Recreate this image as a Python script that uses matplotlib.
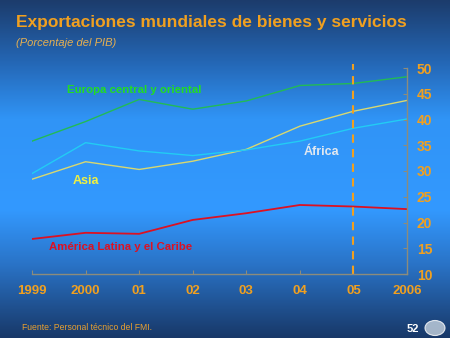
import numpy as np
import matplotlib
matplotlib.use("Agg")
import matplotlib.pyplot as plt
from matplotlib.colors import LinearSegmentedColormap

years = [1999, 2000, 2001, 2002, 2003, 2004, 2005, 2006]
year_labels = ["1999", "2000", "01", "02", "03", "04", "05", "2006"]
europa = [35.8, 39.6, 43.9, 42.0, 43.6, 46.6, 47.0, 48.3]
asia = [28.4, 31.8, 30.3, 31.9, 34.2, 38.7, 41.6, 43.7]
africa = [29.5, 35.5, 33.9, 33.0, 34.1, 35.8, 38.3, 40.1]
latam = [16.8, 18.0, 17.8, 20.5, 21.8, 23.4, 23.1, 22.6]
y_ticks = [10, 15, 20, 25, 30, 35, 40, 45, 50]

plt.rcParams['font.family'] = ['Liberation Sans', 'DejaVu Sans']

fig = plt.figure(figsize=(4.5, 3.38), dpi=100)

# background gradient
bg = fig.add_axes([0, 0, 1, 1])
cmap = LinearSegmentedColormap.from_list("bg", [
    (0.0, "#1c3c6c"), (0.18, "#2466b4"), (0.35, "#3094f6"),
    (0.62, "#3399ff"), (0.78, "#2a74c8"), (1.0, "#183868")])
grad = np.linspace(0, 1, 256).reshape(-1, 1)
bg.imshow(grad, aspect='auto', cmap=cmap, extent=[0, 1, 0, 1])
bg.set_axis_off()

ax = fig.add_axes([32/450, 1-274/338, (407-32)/450, (274-68)/338])
ax.patch.set_alpha(0)
ax.plot(years, europa, color="#22bb55", lw=1.0)
ax.plot(years, asia, color="#d8d870", lw=1.0)
ax.plot(years, africa, color="#22ccf4", lw=1.0)
ax.plot(years, latam, color="#dd1122", lw=1.3)
ax.axvline(2005, ymin=0, ymax=1.02, color="#f0a020", lw=1.5, ls=(0, (4, 3)), clip_on=False)

ax.set_xlim(1999, 2006)
ax.set_ylim(10, 50)
for s in ["top", "left"]:
    ax.spines[s].set_visible(False)
for s in ["right", "bottom"]:
    ax.spines[s].set_color("#8c8c7c")
    ax.spines[s].set_linewidth(1.0)
ax.yaxis.tick_right()
ax.set_yticks(y_ticks)
ax.set_yticklabels([str(v) for v in y_ticks])
ax.set_xticks(years)
ax.set_xticklabels(year_labels)
ax.tick_params(axis='y', direction='in', length=3, color="#8c8c7c", pad=7,
               labelsize=10, labelcolor="#f0a020")
ax.tick_params(axis='x', direction='in', length=3, color="#8c8c7c", pad=8,
               labelsize=9.5, labelcolor="#f0a020")
for lab in ax.get_xticklabels() + ax.get_yticklabels():
    lab.set_fontweight('bold')

# series labels
ax.text(2000.9, 45.7, "Europa central y oriental", color="#22dd22", fontsize=8.2,
        fontweight='bold', ha='center', va='center')
ax.text(2000.0, 28.1, "Asia", color="#f0f040", fontsize=9,
        fontweight='bold', ha='center', va='center')
ax.text(2004.41, 33.7, "África", color="#e0e8f0", fontsize=9,
        fontweight='bold', ha='center', va='center')
ax.text(2000.66, 15.2, "América Latina y el Caribe", color="#dd1122", fontsize=8.2,
        fontweight='bold', ha='center', va='center')

# titles
fig.text(16/450, 1-23/338, "Exportaciones mundiales de bienes y servicios",
         color="#f0a020", fontsize=12.5, fontweight='bold', va='center', ha='left')
fig.text(16/450, 1-43/338, "(Porcentaje del PIB)", color="#e8b050",
         fontsize=8, style='italic', va='center', ha='left')
fig.text(22/450, 1-328/338, "Fuente: Personal técnico del FMI.", color="#e8a030",
         fontsize=6.2, va='center', ha='left')
fig.text(413/450, 1-329/338, "52", color="white", fontsize=8,
         fontweight='bold', va='center', ha='center')
logo = plt.Circle((435/450, 1-328/338), 10/450, transform=fig.transFigure,
                  facecolor="#c8d4e0", edgecolor="white", lw=0.8, alpha=0.8)
fig.patches.append(logo)

fig.savefig("out.png", dpi=100)
